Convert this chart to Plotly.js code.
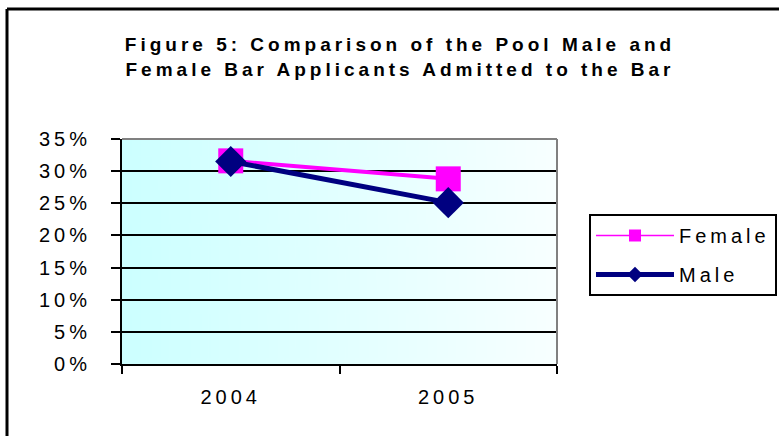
<!DOCTYPE html>
<html>
<head>
<meta charset="utf-8">
<script src="https://cdn.plot.ly/plotly-3.0.1.min.js"></script>
<style>
  html, body { margin: 0; padding: 0; background: #fff; }
  #chart { width: 779px; height: 436px; }
  svg text { letter-spacing: 4px; }
  .legend .groups:first-child .js-line { stroke-width: 1.5px !important; }
</style>
</head>
<body>
<div id="chart"></div>
<script>
const categories = ['2004', '2005'];
const femaleValues = [31.6, 28.8];
const maleValues = [31.5, 25.1];
const seriesNames = ['Female', 'Male'];
const titleText = 'Figure 5: Comparison of the Pool Male and<br>Female Bar Applicants Admitted to the Bar';

// horizontal gradient for the plot area background
const cv = document.createElement('canvas');
cv.width = 400; cv.height = 20;
const ctx = cv.getContext('2d');
const grd = ctx.createLinearGradient(0, 0, 400, 0);
grd.addColorStop(0, '#ccffff');
grd.addColorStop(1, '#f8ffff');
ctx.fillStyle = grd;
ctx.fillRect(0, 0, 400, 20);
const bgUrl = cv.toDataURL('image/png');

const FONT = 'Liberation Sans, Arial, sans-serif';

const traces = [
  {
    x: categories, y: femaleValues, name: seriesNames[0], type: 'scatter', mode: 'lines+markers',
    legendgroup: 'f',
    line: { color: '#ff00ff', width: 4 },
    marker: { symbol: 'square', size: 25, color: '#ff00ff' }
  },
  {
    x: categories, y: maleValues, name: seriesNames[1], type: 'scatter', mode: 'lines+markers',
    legendgroup: 'm',
    line: { color: '#000080', width: 5 },
    marker: { symbol: 'diamond', size: 24, color: '#000080' }
  }
];

const W = 779, H = 436, L = 122, R = 222, T = 139, B = 72;
const pw = W - L - R, ph = H - T - B;
const px2x = p => (p - L) / pw;
const px2y = p => 1 - (p - T) / ph;

const layout = {
  width: W, height: H,
  margin: { l: L, r: R, t: T, b: B, pad: 0, autoexpand: false },
  paper_bgcolor: '#ffffff',
  plot_bgcolor: 'rgba(0,0,0,0)',
  font: { family: FONT, size: 20, color: '#000000' },
  title: {
    text: titleText,
    font: { family: FONT, size: 19, color: '#000000', weight: 'bold' },
    xref: 'paper', x: px2x(400), xanchor: 'center',
    yref: 'container', y: 1 - 51 / H, yanchor: 'top'
  },
  xaxis: {
    type: 'category', range: [-0.5, 1.5], tickson: 'boundaries',
    ticks: 'outside', ticklen: 8, tickwidth: 2, tickcolor: '#000',
    showline: true, linecolor: '#000', linewidth: 2, showgrid: false,
    ticklabelstandoff: 14, tickfont: { size: 20 }, fixedrange: true
  },
  yaxis: {
    range: [0, 35], dtick: 5, tick0: 0, ticksuffix: '%',
    ticks: 'outside', ticklen: 9, tickwidth: 2, tickcolor: '#000',
    showline: true, linecolor: '#000', linewidth: 2,
    showgrid: true, gridcolor: '#000', gridwidth: 2, zeroline: false,
    ticklabelstandoff: 16, tickfont: { size: 20 }, fixedrange: true
  },
  legend: {
    x: px2x(589), y: px2y(214), xanchor: 'left', yanchor: 'top',
    bgcolor: '#ffffff', bordercolor: '#000', borderwidth: 2,
    font: { size: 20 }, itemwidth: 78, itemsizing: 'constant',
    traceorder: 'grouped', tracegroupgap: 10
  },
  images: [{
    source: bgUrl, xref: 'paper', yref: 'paper', x: 0, y: 1, sizex: 1, sizey: 1,
    sizing: 'stretch', xanchor: 'left', yanchor: 'top', layer: 'below'
  }],
  shapes: [
    { type: 'line', xref: 'paper', yref: 'paper', x0: 0, x1: 1, y0: 1, y1: 1, line: { color: '#808080', width: 2 } },
    { type: 'line', xref: 'paper', yref: 'paper', x0: 1, x1: 1, y0: 0, y1: 1, line: { color: '#808080', width: 2 } },
    { type: 'line', xref: 'paper', yref: 'paper', x0: px2x(7), x1: px2x(790), y0: px2y(9), y1: px2y(9), line: { color: '#000', width: 3 } },
    { type: 'line', xref: 'paper', yref: 'paper', x0: px2x(7), x1: px2x(7), y0: px2y(9), y1: px2y(445), line: { color: '#000', width: 3 } }
  ],
  showlegend: true
};

Plotly.newPlot('chart', traces, layout, { displayModeBar: false, staticPlot: true });
</script>
</body>
</html>
